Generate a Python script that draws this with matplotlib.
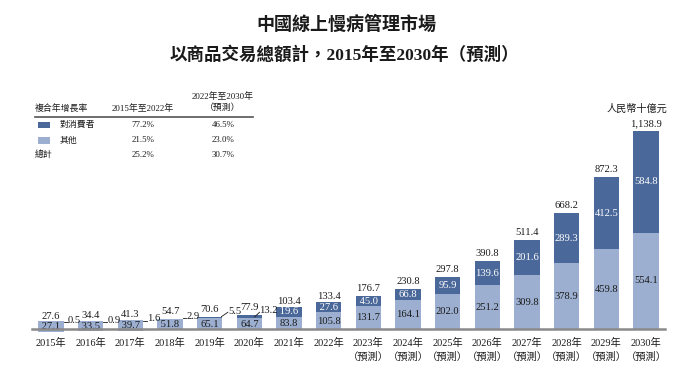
import matplotlib
matplotlib.use('Agg')
import matplotlib.pyplot as plt
from matplotlib.patches import Rectangle
from matplotlib.lines import Line2D
import numpy as np

plt.rcParams['font.family'] = ['Liberation Serif', 'Noto Sans CJK TC', 'DejaVu Sans']

# ---------------- data ----------------
years = ['2015年', '2016年', '2017年', '2018年', '2019年', '2020年', '2021年', '2022年',
         '2023年', '2024年', '2025年', '2026年', '2027年', '2028年', '2029年', '2030年']
forecast = [False] * 8 + [True] * 8
consumer = [0.5, 0.9, 1.6, 2.9, 5.5, 13.2, 19.6, 27.6,
            45.0, 66.8, 95.9, 139.6, 201.6, 289.3, 412.5, 584.8]
other = [27.1, 33.5, 39.7, 51.8, 65.1, 64.7, 83.8, 105.8,
         131.7, 164.1, 202.0, 251.2, 309.8, 378.9, 459.8, 554.1]
total = [27.6, 34.4, 41.3, 54.7, 70.6, 77.9, 103.4, 133.4,
         176.7, 230.8, 297.8, 390.8, 511.4, 668.2, 872.3, 1138.9]

cagr_rows = ['對消費者', '其他', '總計']
cagr_2015_2022 = ['77.2%', '21.5%', '25.2%']
cagr_2022_2030 = ['46.5%', '23.0%', '30.7%']

title1 = '中國線上慢病管理市場'
title2 = '以商品交易總額計，2015年至2030年（預測）'
unit_label = '人民幣十億元'

# ---------------- style ----------------
DARK = '#4a6899'
LIGHT = '#9cafd0'
TXT = '#1a1a1a'
W_PX, H_PX = 697, 373
fig = plt.figure(figsize=(W_PX / 100, H_PX / 100), dpi=100)

def fx(x):
    return x / W_PX

def fy(y):
    return 1 - y / H_PX

# axes geometry (pixels)
ax_left, ax_right, ax_base, ax_top = 32, 665, 329, 131
ax = fig.add_axes([fx(ax_left), fy(ax_base), (ax_right - ax_left) / W_PX, (ax_base - ax_top) / H_PX])
x = np.arange(len(years))
XMIN, XMAX = -0.48, len(years) - 1 + 0.48
YMAX = 1140
ax.set_xlim(XMIN, XMAX)
ax.set_ylim(0, YMAX)
ppx = (ax_right - ax_left) / (XMAX - XMIN)
ppy = (ax_base - ax_top) / YMAX

def dxd(px):
    return px / ppx

def dyd(px):
    return px / ppy

bw = 0.64
ax.bar(x, other, width=bw, color=LIGHT, zorder=2)
ax.bar(x, consumer, width=bw, bottom=other, color=DARK, zorder=2)

for s in ['top', 'right', 'left']:
    ax.spines[s].set_visible(False)
ax.spines['bottom'].set_color('#8a8a8a')
ax.spines['bottom'].set_linewidth(1.8)
ax.spines['bottom'].set_zorder(5)
ax.set_yticks([])
ax.set_xticks(x)
ax.set_xticklabels([y + ('\n（預測）' if f else '') for y, f in zip(years, forecast)],
                   fontsize=7.4, color=TXT, linespacing=1.5)
ax.tick_params(axis='x', length=0, pad=6.5)

FS = 7.6
# small consumer labels (outside) – layout offsets in pixels relative to bar top-right
small_layout = {
    0: dict(lab=(4, 4), line=((0, 2), (4, 2))),
    1: dict(lab=(4, 3), line=((0, 1), (4, 1))),
    2: dict(lab=(4, 3), line=((0, 1), (4, 1))),
    3: dict(lab=(3.5, 3), line=((0, 1), (3.5, 1))),
    4: dict(lab=(5.5, 5.7), line=((-1, 0), (5.5, 4.5))),
    5: dict(lab=(-3.5, 4.5), line=((-7.5, -1.5), (-2.5, 3.2))),
}

for i in range(len(years)):
    xr = x[i] + bw / 2
    top = total[i]
    cons_px = consumer[i] * ppy
    boxed = (i not in small_layout) and cons_px < 9
    # total label
    ax.text(x[i], top + dyd(9.5 if boxed else 7.5), f'{total[i]:,.1f}', ha='center', va='center',
            fontsize=FS, color=TXT, zorder=6)
    # other label (inside light segment)
    oth_px = other[i] * ppy
    kw = {}
    ypos = other[i] / 2
    if oth_px < 9.5:
        kw['bbox'] = dict(boxstyle='square,pad=0.08', fc=LIGHT, ec='none')
        lab = f' {other[i]:.1f} '
    else:
        lab = f'{other[i]:.1f}'
        if oth_px < 20:
            ypos = other[i] / 2 - dyd(1.5)
    ax.text(x[i], ypos, lab, ha='center', va='center', fontsize=FS, color=TXT, zorder=4.5, **kw)
    # consumer label
    if i in small_layout:
        L = small_layout[i]
        (sx, sy), (ex, ey) = L['line']
        ax.add_line(Line2D([xr + dxd(sx), xr + dxd(ex)], [top + dyd(sy), top + dyd(ey)],
                           color=TXT, lw=0.6, zorder=6, clip_on=False))
        lx, ly = L['lab']
        ax.text(xr + dxd(lx), top + dyd(ly), f'{consumer[i]:.1f}', ha='left', va='center',
                fontsize=FS, color=TXT, zorder=6)
    else:
        kw = {}
        lab = f'{consumer[i]:.1f}'
        if boxed:
            kw['bbox'] = dict(boxstyle='square,pad=0.06', fc=DARK, ec='none')
            lab = f' {consumer[i]:.1f} '
        ax.text(x[i], other[i] + consumer[i] / 2 + (dyd(1.0) if boxed else 0), lab,
                ha='center', va='center', fontsize=FS, color='white', zorder=4, **kw)

# ---------------- titles ----------------
fig.text(fx(346), fy(25), title1, ha='center', va='center', fontsize=13, fontweight='bold', color=TXT)
fig.text(fx(344), fy(55), title2, ha='center', va='center', fontsize=12.6, fontweight='bold', color=TXT)

# unit label
fig.text(fx(637), fy(109), unit_label, ha='center', va='center', fontsize=7.3, style='italic', color=TXT)

# ---------------- CAGR table ----------------
TFS = 6.4
col1, col2 = 143, 223
fig.text(fx(35), fy(109), '複合年增長率', ha='left', va='center', fontsize=TFS, color=TXT)
fig.text(fx(col1), fy(109), '2015年至2022年', ha='center', va='center', fontsize=TFS, color=TXT)
fig.text(fx(col2), fy(97), '2022年至2030年', ha='center', va='center', fontsize=TFS, color=TXT)
fig.text(fx(col2), fy(107.5), '（預測）', ha='center', va='center', fontsize=TFS, color=TXT)
fig.add_artist(Line2D([fx(35), fx(253)], [fy(116.5), fy(116.5)], color='#555555', lw=1.2))

row_y = [125, 140.5, 155]
row_colors = [DARK, LIGHT, None]
row_label_x = [77, 68, None]
for k in range(3):
    yy = row_y[k]
    if row_colors[k] is not None:
        fig.add_artist(Rectangle((fx(38), fy(yy + 3.2)), 12 / W_PX, 6.4 / H_PX,
                                 transform=fig.transFigure, fc=row_colors[k], ec='none'))
        fig.text(fx(row_label_x[k]), fy(yy), cagr_rows[k], ha='center', va='center', fontsize=TFS, color=TXT)
    else:
        fig.text(fx(35), fy(yy), cagr_rows[k], ha='left', va='center', fontsize=TFS, color=TXT)
    fig.text(fx(col1), fy(yy), cagr_2015_2022[k], ha='center', va='center', fontsize=TFS, color=TXT)
    fig.text(fx(col2), fy(yy), cagr_2022_2030[k], ha='center', va='center', fontsize=TFS, color=TXT)

fig.savefig('out.png', dpi=100, facecolor='white')
